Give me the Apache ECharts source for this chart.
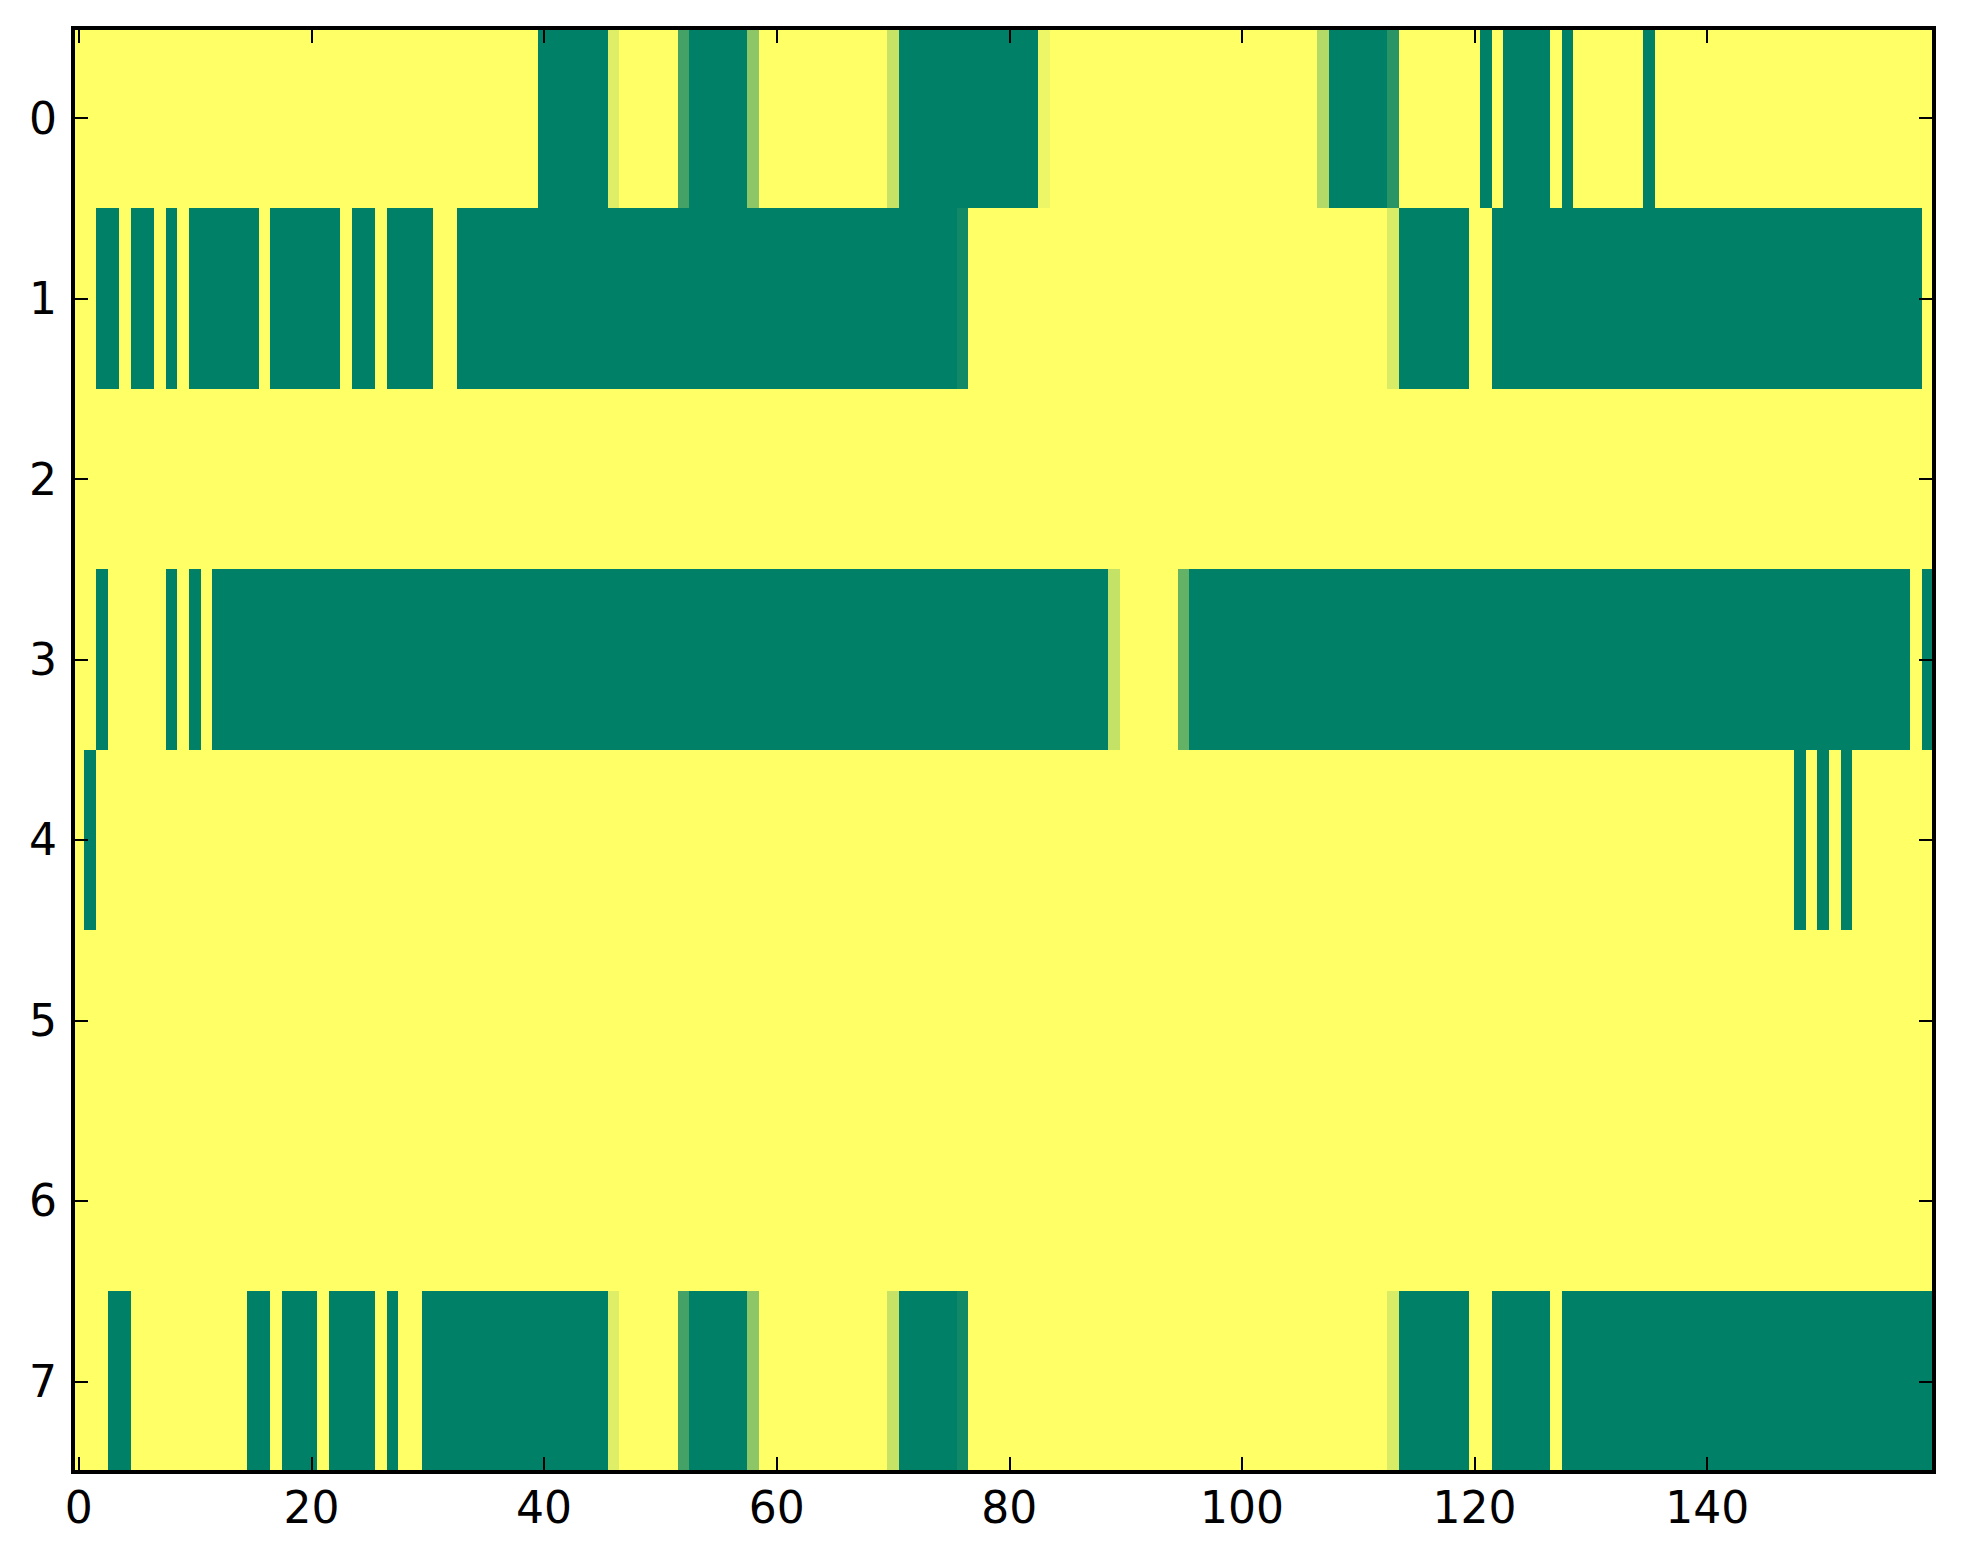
<!DOCTYPE html>
<html>
<head>
<meta charset="utf-8">
<script src="https://cdn.jsdelivr.net/npm/echarts@6/dist/echarts.min.js"></script>
<style>
html,body{margin:0;padding:0;background:#fff;}
#chart{width:1963px;height:1564px;}
#chart svg rect, #chart svg path { shape-rendering: crispEdges; }
</style>
</head>
<body>
<div id="chart"></div>
<script>
// Column categories 0..159 and row categories 0..7
var xCategories = [];
for (var i = 0; i < 160; i++) xCategories.push(String(i));
var yCategories = ['0','1','2','3','4','5','6','7'];

// Cell values per row (0 = green, 1 = yellow)
var row0 = [
1,1,1,1,1,1,1,1,1,1,
1,1,1,1,1,1,1,1,1,1,
1,1,1,1,1,1,1,1,1,1,
1,1,1,1,1,1,1,1,1,1,
0,0,0,0,0,0,0.87,1,1,1,
1,1,0.27,0,0,0,0,0,0.55,1,
1,1,1,1,1,1,1,1,1,1,
0.78,0,0,0,0,0,0,0,0,0,
0,0,0,0.93,1,1,1,1,1,1,
1,1,1,1,1,1,1,1,1,1,
1,1,1,1,1,1,1,0.7,0,0,
0,0,0,0.16,1,1,1,1,1,1,
1,0,1,0,0,0,0,1,0,1,
1,1,1,1,1,0,1,1,1,1,
1,1,1,1,1,1,1,1,1,1,
1,1,1,1,1,1,1,1,1,1
];
var row1 = [
1,1,0,0,1,0,0,1,0,1,
0,0,0,0,0,0,1,0,0,0,
0,0,0,1,0,0,1,0,0,0,
0,1,1,0,0,0,0,0,0,0,
0,0,0,0,0,0,0,0,0,0,
0,0,0,0,0,0,0,0,0,0,
0,0,0,0,0,0,0,0,0,0,
0,0,0,0,0,0,0.07,1,1,1,
1,1,1,1,1,1,1,1,1,1,
1,1,1,1,1,1,1,1,1,1,
1,1,1,1,1,1,1,1,1,1,
1,1,1,0.85,0,0,0,0,0,0,
1,1,0,0,0,0,0,0,0,0,
0,0,0,0,0,0,0,0,0,0,
0,0,0,0,0,0,0,0,0,0,
0,0,0,0,0,0,0,0,0,1
];
var row2 = [
1,1,1,1,1,1,1,1,1,1,
1,1,1,1,1,1,1,1,1,1,
1,1,1,1,1,1,1,1,1,1,
1,1,1,1,1,1,1,1,1,1,
1,1,1,1,1,1,1,1,1,1,
1,1,1,1,1,1,1,1,1,1,
1,1,1,1,1,1,1,1,1,1,
1,1,1,1,1,1,1,1,1,1,
1,1,1,1,1,1,1,1,1,1,
1,1,1,1,1,1,1,1,1,1,
1,1,1,1,1,1,1,1,1,1,
1,1,1,1,1,1,1,1,1,1,
1,1,1,1,1,1,1,1,1,1,
1,1,1,1,1,1,1,1,1,1,
1,1,1,1,1,1,1,1,1,1,
1,1,1,1,1,1,1,1,1,1
];
var row3 = [
1,1,0,1,1,1,1,1,0,1,
0,1,0,0,0,0,0,0,0,0,
0,0,0,0,0,0,0,0,0,0,
0,0,0,0,0,0,0,0,0,0,
0,0,0,0,0,0,0,0,0,0,
0,0,0,0,0,0,0,0,0,0,
0,0,0,0,0,0,0,0,0,0,
0,0,0,0,0,0,0,0,0,0,
0,0,0,0,0,0,0,0,0,0.77,
1,1,1,1,1,0.39,0,0,0,0,
0,0,0,0,0,0,0,0,0,0,
0,0,0,0,0,0,0,0,0,0,
0,0,0,0,0,0,0,0,0,0,
0,0,0,0,0,0,0,0,0,0,
0,0,0,0,0,0,0,0,0,0,
0,0,0,0,0,0,0,0,1,0
];
var row4 = [
1,0,1,1,1,1,1,1,1,1,
1,1,1,1,1,1,1,1,1,1,
1,1,1,1,1,1,1,1,1,1,
1,1,1,1,1,1,1,1,1,1,
1,1,1,1,1,1,1,1,1,1,
1,1,1,1,1,1,1,1,1,1,
1,1,1,1,1,1,1,1,1,1,
1,1,1,1,1,1,1,1,1,1,
1,1,1,1,1,1,1,1,1,1,
1,1,1,1,1,1,1,1,1,1,
1,1,1,1,1,1,1,1,1,1,
1,1,1,1,1,1,1,1,1,1,
1,1,1,1,1,1,1,1,1,1,
1,1,1,1,1,1,1,1,1,1,
1,1,1,1,1,1,1,1,0,1,
0,1,0,1,1,1,1,1,1,1
];
var row5 = row2.slice();
var row6 = row2.slice();
var row7 = [
1,1,1,0,0,1,1,1,1,1,
1,1,1,1,1,0,0,1,0,0,
0,1,0,0,0,0,1,0,1,1,
0,0,0,0,0,0,0,0,0,0,
0,0,0,0,0,0,0.87,1,1,1,
1,1,0.27,0,0,0,0,0,0.55,1,
1,1,1,1,1,1,1,1,1,1,
0.78,0,0,0,0,0,0.07,1,1,1,
1,1,1,1,1,1,1,1,1,1,
1,1,1,1,1,1,1,1,1,1,
1,1,1,1,1,1,1,1,1,1,
1,1,1,0.85,0,0,0,0,0,0,
1,1,0,0,0,0,0,1,0,0,
0,0,0,0,0,0,0,0,0,0,
0,0,0,0,0,0,0,0,0,0,
0,0,0,0,0,0,0,0,0,0
];
var rows = [row0,row1,row2,row3,row4,row5,row6,row7];

var cells = [];
rows.forEach(function (r, y) {
  r.forEach(function (v, x) { cells.push([x, y, v]); });
});

var FONT = 'DejaVu Sans';
var chart = echarts.init(document.getElementById('chart'), null, {renderer: 'svg'});

function xAx(pos, showLabel) {
  return {
    type: 'category', data: xCategories, position: pos, gridIndex: 0, z: 10, zlevel: 1,
    axisLine: {show: true, onZero: false, lineStyle: {color: '#000', width: 4, cap: 'square'}},
    axisTick: {show: true, inside: true, interval: 19, alignWithLabel: true, length: 15,
               lineStyle: {color: '#000', width: 2}},
    axisLabel: {show: showLabel, interval: 19, margin: 14, color: '#000',
                fontFamily: FONT, fontSize: 44},
    splitLine: {show: false}
  };
}
function yAx(pos, showLabel) {
  return {
    type: 'category', data: yCategories, inverse: true, position: pos, gridIndex: 0, z: 10, zlevel: 1,
    axisLine: {show: true, onZero: false, lineStyle: {color: '#000', width: 4, cap: 'square'}},
    axisTick: {show: true, inside: true, alignWithLabel: true, length: 15,
               lineStyle: {color: '#000', width: 2}},
    axisLabel: {show: showLabel, margin: 16, color: '#000',
                fontFamily: FONT, fontSize: 44},
    splitLine: {show: false}
  };
}

chart.setOption({
  animation: false,
  backgroundColor: '#ffffff',
  grid: {left: 73, right: 29, top: 28, bottom: 92.5, containLabel: false},
  xAxis: [xAx('bottom', true), xAx('top', false)],
  yAxis: [yAx('left', true), yAx('right', false)],
  visualMap: {
    show: false, type: 'continuous', min: 0, max: 1, dimension: 2,
    inRange: {color: ['#008066', '#ffff66']}
  },
  series: [{
    type: 'heatmap', xAxisIndex: 0, yAxisIndex: 0, data: cells, z: 1,
    progressive: 0, emphasis: {disabled: true},
    itemStyle: {borderWidth: 0}
  }]
});
</script>
</body>
</html>
